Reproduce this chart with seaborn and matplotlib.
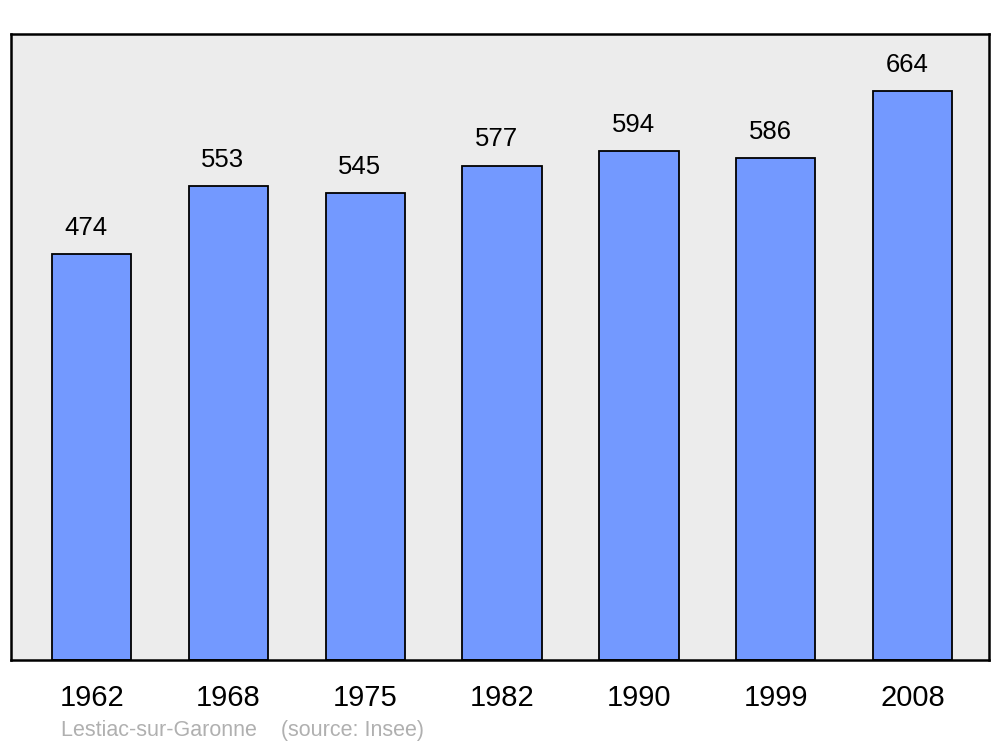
import pandas as pd
import seaborn as sns
import matplotlib.pyplot as plt

years = ["1962", "1968", "1975", "1982", "1990", "1999", "2008"]
population = [474, 553, 545, 577, 594, 586, 664]
commune = "Lestiac-sur-Garonne"
source = "(source: Insee)"

df = pd.DataFrame({"year": years, "pop": population})

sns.set_style("white")
plt.rcParams["font.family"] = ["Liberation Sans", "DejaVu Sans"]

fig = plt.figure(figsize=(10, 7.47), dpi=100)
ax = fig.add_axes([0.011, 0.1165, 0.978, 0.838])
ax.set_facecolor("#ececec")

sns.barplot(data=df, x="year", y="pop", color="#7399ff", saturation=1,
            edgecolor="black", linewidth=1.3, width=0.58, ax=ax)

for i, v in enumerate(population):
    ax.annotate(str(v), (i, v), xytext=(-4, 19), textcoords="offset points",
                ha="center", va="center", fontsize=18.5, color="black")

ax.set_xlim(-0.59, 6.56)
ax.set_ylim(0, 731)
ax.set_yticks([])
ax.set_xlabel("")
ax.set_ylabel("")
ax.tick_params(axis="x", length=0, pad=17, labelsize=21, labelcolor="black")
for s in ax.spines.values():
    s.set_color("black")
    s.set_linewidth(1.8)

fig.text(0.061, 0.0225, commune + "    " + source, color="#b0b0b0",
         fontsize=15.5, ha="left", va="center")

fig.savefig("out.png", dpi=100)
